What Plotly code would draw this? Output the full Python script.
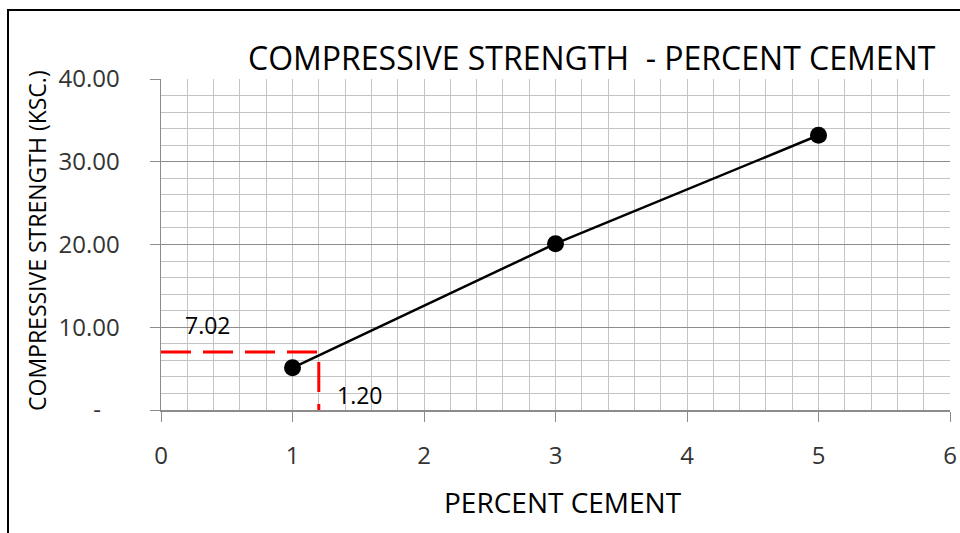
import plotly.graph_objects as go

# ---- data ----
percent_cement = [1, 3, 5]
strength_ksc = [5.1, 20.1, 33.2]
read_x = 1.20
read_y = 7.02
x_tick_vals = [0, 1, 2, 3, 4, 5, 6]
x_tick_text = ["0", "1", "2", "3", "4", "5", "6"]
y_tick_vals = [0, 10, 20, 30, 40]
y_tick_text = ["-\u00a0\u00a0\u00a0", "10.00", "20.00", "30.00", "40.00"]

title_text = "COMPRESSIVE STRENGTH\u00a0 - PERCENT CEMENT"
x_title = "PERCENT CEMENT"
y_title = "COMPRESSIVE STRENGTH (KSC.)"

FONT = "Open Sans"
W, H = 960, 533
ML, MR, MT, MB = 161, 10, 79, 123
PW = W - ML - MR
PH = H - MT - MB

fig = go.Figure()

fig.add_trace(go.Scatter(
    x=percent_cement, y=strength_ksc, mode="lines+markers",
    line=dict(color="black", width=2.5),
    marker=dict(size=17, color="black"),
    hoverinfo="skip", cliponaxis=False,
))

fig.add_trace(go.Scatter(
    x=[0, read_x, read_x], y=[read_y, read_y, 0], mode="lines",
    line=dict(color="#ff0000", width=3, dash="30px,12px"),
    hoverinfo="skip", cliponaxis=False,
))

grid_minor = "#c4c4c4"
grid_major = "#8c8c8c"
tick_font = dict(size=24, color="#333333", family=FONT)

fig.update_layout(
    width=W, height=H,
    margin=dict(l=ML, r=MR, t=MT, b=MB, autoexpand=False),
    paper_bgcolor="white", plot_bgcolor="white",
    showlegend=False,
    font=dict(family=FONT, color="#333333"),
    xaxis=dict(
        range=[0, 6], tickmode="array", tickvals=x_tick_vals, ticktext=x_tick_text,
        showgrid=True, gridcolor=grid_minor, gridwidth=1,
        minor=dict(tick0=0, dtick=0.2, showgrid=True, gridcolor=grid_minor, gridwidth=1),
        ticks="outside", ticklen=10, tickcolor=grid_major, tickwidth=1,
        showline=True, linecolor=grid_major, linewidth=1.5,
        zeroline=False, tickfont=tick_font, automargin=False,
        ticklabelstandoff=14, fixedrange=True,
    ),
    yaxis=dict(
        range=[0, 40], tickmode="array", tickvals=y_tick_vals, ticktext=y_tick_text,
        showgrid=True, gridcolor=grid_major, gridwidth=1.2,
        minor=dict(tick0=0, dtick=2, showgrid=True, gridcolor=grid_minor, gridwidth=1),
        ticks="outside", ticklen=10, tickcolor=grid_major, tickwidth=1,
        showline=True, linecolor=grid_major, linewidth=1.5,
        zeroline=False, tickfont=tick_font, automargin=False,
        ticklabelstandoff=25, fixedrange=True,
    ),
    shapes=[dict(
        type="rect", xref="paper", yref="paper",
        x0=(8 - ML) / PW, x1=1.3, y0=-0.8, y1=(H - MB - 10) / PH,
        line=dict(color="black", width=2), fillcolor="rgba(0,0,0,0)",
    )],
    annotations=[
        dict(text=title_text, xref="paper", yref="paper",
             x=(592 - ML) / PW, y=(H - MB - 57) / PH, xanchor="center", yanchor="middle",
             showarrow=False, font=dict(size=32, color="black", family=FONT)),
        dict(text=x_title, xref="paper", yref="paper",
             x=(563 - ML) / PW, y=(H - MB - 502) / PH, xanchor="center", yanchor="middle",
             showarrow=False, font=dict(size=28, color="black", family=FONT)),
        dict(text=y_title, xref="paper", yref="paper", textangle=-90,
             x=(37 - ML) / PW, y=(H - MB - 241) / PH, xanchor="center", yanchor="middle",
             showarrow=False, font=dict(size=23, color="black", family=FONT)),
        dict(text=f"{read_y:.2f}", xref="x", yref="y", x=0.36, y=10.3,
             xanchor="center", yanchor="middle", showarrow=False,
             font=dict(size=23, color="black", family=FONT)),
        dict(text=f"{read_x:.2f}", xref="x", yref="y", x=1.51, y=1.8,
             xanchor="center", yanchor="middle", showarrow=False,
             font=dict(size=23, color="black", family=FONT)),
    ],
)

fig.write_html(
    "out.html",
    config={"displayModeBar": False, "staticPlot": True},
    post_script="document.body.style.margin='0';document.body.style.overflow='hidden';",
)
